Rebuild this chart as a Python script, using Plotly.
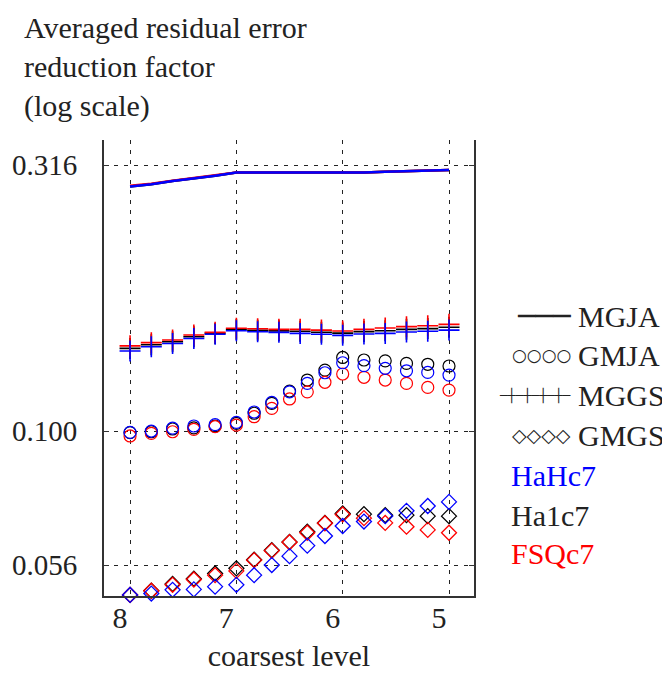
import plotly.graph_objects as go

# x positions (coarsest level) -- reversed axis
x_step = [8.0, 7.8, 7.6, 7.4, 7.2, 7.0, 6.8, 6.6, 6.4, 6.2, 6.0, 5.8, 5.6, 5.4, 5.2, 5.0]
x_fine = [8.0, 7.8, 7.6, 7.4, 7.2, 7.0, 6.833, 6.667, 6.5, 6.333, 6.167, 6.0,
          5.8, 5.6, 5.4, 5.2, 5.0]

# MGJA (line)
mgja_blue = [0.288, 0.291, 0.295, 0.298, 0.302, 0.306, 0.306, 0.306, 0.306, 0.306,
             0.306, 0.306, 0.307, 0.308, 0.309, 0.3095]
mgja_black = [0.288, 0.291, 0.295, 0.298, 0.302, 0.306, 0.306, 0.306, 0.306, 0.306,
              0.306, 0.306, 0.307, 0.308, 0.309, 0.3095]
mgja_red = [0.289, 0.2915, 0.2955, 0.2985, 0.3025, 0.306, 0.306, 0.306, 0.306, 0.306,
            0.306, 0.306, 0.307, 0.308, 0.309, 0.3095]

# GMJA (circles)
gmja_blue = [0.0994, 0.1000, 0.1013, 0.1022, 0.1028, 0.1038, 0.1086, 0.1132, 0.1185,
             0.1229, 0.1287, 0.1344, 0.1327, 0.1312, 0.1298, 0.1289, 0.1274]
gmja_black = [0.0993, 0.0997, 0.1009, 0.1014, 0.1022, 0.1034, 0.1080, 0.1127, 0.1189,
              0.1247, 0.1302, 0.1375, 0.1360, 0.1355, 0.1340, 0.1335, 0.1325]
gmja_red = [0.0979, 0.0990, 0.0997, 0.1007, 0.1019, 0.1026, 0.1064, 0.1103, 0.1149,
            0.1185, 0.1235, 0.1280, 0.1262, 0.1247, 0.1229, 0.1208, 0.1194]

# MGGS (plus)
mggs_blue = [0.1414, 0.1440, 0.1461, 0.1493, 0.1520, 0.1544, 0.1537, 0.1533, 0.1526,
             0.1520, 0.1513, 0.1522, 0.1526, 0.1535, 0.1540, 0.1548]
mggs_black = [0.1430, 0.1453, 0.1472, 0.1504, 0.1526, 0.1552, 0.1547, 0.1543, 0.1540,
              0.1534, 0.1528, 0.1538, 0.1544, 0.1553, 0.1558, 0.1567]
mggs_red = [0.1446, 0.1466, 0.1483, 0.1515, 0.1533, 0.1560, 0.1557, 0.1553, 0.1553,
            0.1548, 0.1542, 0.1553, 0.1562, 0.1571, 0.1577, 0.1587]

# GMGS (diamonds)
gmgs_blue = [0.0492, 0.0495, 0.0503, 0.0504, 0.0510, 0.0514, 0.0536, 0.0560, 0.0582,
             0.0609, 0.0635, 0.0663, 0.0676, 0.0692, 0.0708, 0.0723, 0.0736]
gmgs_black = [0.0492, 0.0501, 0.0516, 0.0528, 0.0540, 0.0552, 0.0573, 0.0597, 0.0619,
              0.0647, 0.0672, 0.0700, 0.0698, 0.0695, 0.0695, 0.0692, 0.0692]
gmgs_red = [0.0492, 0.0501, 0.0514, 0.0526, 0.0536, 0.0546, 0.0572, 0.0596, 0.0618,
            0.0644, 0.0671, 0.0697, 0.0686, 0.0672, 0.0661, 0.0652, 0.0644]

y_ticks = [0.056, 0.100, 0.316]
y_ticktext = ["0.056", "0.100", "0.316"]
x_ticks = [8, 7, 6, 5]

colors = {"black": "#000000", "red": "#ff0000", "blue": "#0000ff"}
FONT = "Liberation Serif"
FS = 30

fig = go.Figure()

series = [
    ("black", mgja_black, gmja_black, mggs_black, gmgs_black),
    ("red", mgja_red, gmja_red, mggs_red, gmgs_red),
    ("blue", mgja_blue, gmja_blue, mggs_blue, gmgs_blue),
]
for name, mgja, gmja, mggs, gmgs in series:
    c = colors[name]
    fig.add_trace(go.Scatter(x=x_step, y=mgja, mode="lines",
                             line=dict(color=c, width=2.5), showlegend=False))
    fig.add_trace(go.Scatter(x=x_fine, y=gmja, mode="markers", cliponaxis=False,
                             marker=dict(symbol="circle-open", size=12, color=c,
                                         line=dict(width=1.2, color=c)),
                             showlegend=False))
    fig.add_trace(go.Scatter(x=x_step, y=mggs, mode="markers", cliponaxis=False,
                             marker=dict(symbol="cross-thin-open", size=15, color=c,
                                         line=dict(width=1.6, color=c)),
                             showlegend=False))
    fig.add_trace(go.Scatter(x=x_fine, y=gmgs, mode="markers", cliponaxis=False,
                             marker=dict(symbol="diamond-open", size=11.5, color=c,
                                         line=dict(width=1.3, color=c)),
                             showlegend=False))

# page body adds an 8px offset; layout below is planned in window pixels
OFF = 8
W, H = 670, 673
y_lo, y_hi = -1.31, -0.453           # log10 range
px_per_dec = 532
left, right, top = 104, 474, 140
bottom = top + round((y_hi - y_lo) * px_per_dec)
L, T = left - OFF, top - OFF
R, B = W - (right - OFF), H - (bottom - OFF)
pw, ph = right - left, bottom - top


def px(x):
    return (x - left) / pw


def py(y):
    return (bottom - y) / ph


annotations = [
    dict(x=px(22), y=py(9), xref="paper", yref="paper", xanchor="left", yanchor="top",
         align="left", showarrow=False,
         text="Averaged residual error<br>reduction factor<br>(log scale)",
         font=dict(family=FONT, size=FS, color="#222")),
]

legend_rows = [
    ("MGJA", "───", "DejaVu Sans Mono", 29, 316),
    ("GMJA", "○○○○", "DejaVu Sans", 17, 355),
    ("MGGS", "─┼─┼─┼─┼─", "DejaVu Sans Mono", 13, 395),
    ("GMGS", "◇◇◇◇", "DejaVu Sans", 19, 435),
]
for label, sym, fam, size, yy in legend_rows:
    annotations.append(dict(x=px(576), y=py(yy), xref="paper", yref="paper",
                            xanchor="left", yanchor="middle", showarrow=False,
                            text=label, font=dict(family=FONT, size=FS, color="#222")))
    annotations.append(dict(x=px(573), y=py(yy), xref="paper", yref="paper",
                            xanchor="right", yanchor="middle", showarrow=False,
                            text=sym, font=dict(family=fam, size=size, color="#222")))

for label, c, yy in [("HaHc7", "#0000ff", 475), ("Ha1c7", "#222", 515), ("FSQc7", "#ff0000", 553)]:
    annotations.append(dict(x=px(509), y=py(yy), xref="paper", yref="paper",
                            xanchor="left", yanchor="middle", showarrow=False,
                            text=label, font=dict(family=FONT, size=FS, color=c)))

fig.update_layout(
    width=W, height=H,
    margin=dict(l=L, r=R, t=T, b=B),
    plot_bgcolor="white", paper_bgcolor="white",
    font=dict(family=FONT, size=FS, color="#222"),
    annotations=annotations,
    xaxis=dict(range=[8.245, 4.765], tickvals=x_ticks, ticktext=[str(v) for v in x_ticks],
               showgrid=True, gridcolor="#222", griddash="4px,6px", gridwidth=1,
               showline=True, linecolor="#333", linewidth=2, zeroline=False,
               ticks="", ticklabelshift=10, ticklabelstandoff=-6, automargin=False,
               title=dict(text="coarsest level", standoff=12,
                          font=dict(family=FONT, size=FS))),
    yaxis=dict(type="log", range=[y_lo, y_hi], tickvals=y_ticks, ticktext=y_ticktext,
               showgrid=True, gridcolor="#222", griddash="4px,6px", gridwidth=1,
               showline=True, linecolor="#333", linewidth=2, mirror="ticks",
               ticks="inside", ticklen=5, tickcolor="#333", zeroline=False,
               tickfont=dict(family=FONT, size=29),
               ticklabelstandoff=19, automargin=False),
)

fig.write_html("out.html")
